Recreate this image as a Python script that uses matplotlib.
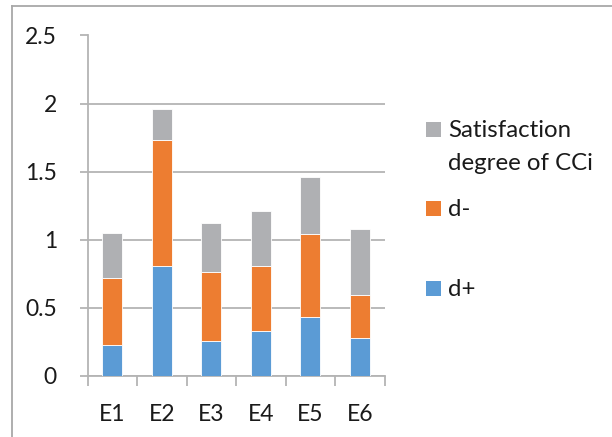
import matplotlib
matplotlib.use("Agg")
import matplotlib.pyplot as plt
import numpy as np
from matplotlib.patches import Rectangle
from matplotlib.lines import Line2D

categories = ["E1", "E2", "E3", "E4", "E5", "E6"]
d_plus = [0.225, 0.805, 0.255, 0.328, 0.433, 0.277]
d_minus = [0.492, 0.930, 0.511, 0.477, 0.612, 0.320]
satisfaction = [0.331, 0.228, 0.355, 0.406, 0.416, 0.484]
yticks = [0, 0.5, 1, 1.5, 2, 2.5]
ytick_labels = ["0", "0.5", "1", "1.5", "2", "2.5"]
series_labels = ["d+", "d-", "Satisfaction\ndegree of CCi"]

c_blue = "#5B9BD5"
c_orange = "#ED7D31"
c_grey = "#AFB0B3"
grid_c = "#B4B4B4"
txt_c = "#1a1a1a"

plt.rcParams['font.family'] = ['Lato', 'DejaVu Sans']

W, H = 612, 437
fig = plt.figure(figsize=(W / 100, H / 100), dpi=100)
ax = fig.add_axes([87.5 / W, 1 - 376 / H, (384.5 - 87.5) / W, (376 - 35.5) / H])

x = np.arange(len(categories))
bw = 0.41
ax.bar(x, d_plus, bw, color=c_blue, edgecolor="white", linewidth=0.6, zorder=3)
ax.bar(x, d_minus, bw, bottom=d_plus, color=c_orange, edgecolor="white", linewidth=0.6, zorder=3)
bottom2 = np.array(d_plus) + np.array(d_minus)
ax.bar(x, satisfaction, bw, bottom=bottom2, color=c_grey, edgecolor="white", linewidth=0.6, zorder=3)

ax.set_xlim(-0.5, len(categories) - 0.5)
ax.set_ylim(0, 2.5)
ax.set_yticks(yticks)
ax.set_yticklabels(ytick_labels)
ax.yaxis.grid(True, color=grid_c, linewidth=1.3, zorder=0)
ax.set_axisbelow(True)

for s in ["top", "right"]:
    ax.spines[s].set_visible(False)
for s in ["left", "bottom"]:
    ax.spines[s].set_color(grid_c)
    ax.spines[s].set_linewidth(1.3)

ax.set_xticks(x)
ax.set_xticklabels(categories)
ax.tick_params(axis="x", length=0, pad=20, labelsize=16.5, colors=txt_c)
ax.set_xticks(np.arange(-0.5, len(categories)), minor=True)
ax.tick_params(axis="x", which="minor", length=7.5, width=1.3, color=grid_c, direction="out")
ax.tick_params(axis="y", length=6, width=1.3, color=grid_c, pad=16, labelsize=16.5, labelcolor=txt_c)

# chart frame
fig.add_artist(Line2D([12 / W, 12 / W], [0, 1 - 6 / H], transform=fig.transFigure, color="#A8A8A8", lw=1.3))
fig.add_artist(Line2D([12 / W, 1], [1 - 6 / H, 1 - 6 / H], transform=fig.transFigure, color="#A8A8A8", lw=1.3))

# legend
entries = [(c_grey, series_labels[2], 129), (c_orange, series_labels[1], 208), (c_blue, series_labels[0], 288)]
for col, lab, yc in entries:
    fig.add_artist(Rectangle((426 / W, 1 - (yc + 7.5) / H), 15 / W, 15 / H, transform=fig.transFigure,
                             facecolor=col, edgecolor="none"))
    for i, line in enumerate(lab.split("\n")):
        fig.text(448 / W, 1 - (yc + 8 + 32.5 * i) / H, line, ha="left", va="baseline",
                 fontsize=17.3, color=txt_c)

fig.savefig("out.png", dpi=100)
